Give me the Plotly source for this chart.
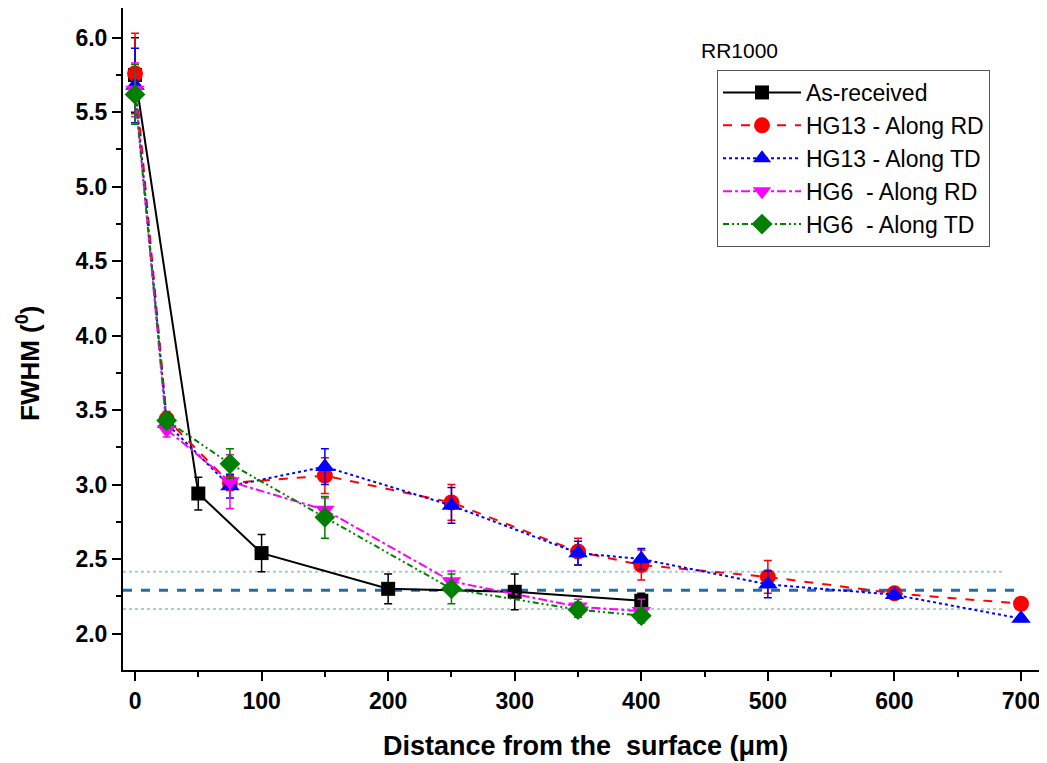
import plotly.graph_objects as go

# ---- data ----
x_asr = [0, 50, 100, 200, 300, 400]
y_asr = [5.75, 2.94, 2.54, 2.30, 2.28, 2.22]
e_asr = [0.25, 0.11, 0.125, 0.10, 0.12, 0.05]

x_hg13 = [0, 25, 75, 150, 250, 350, 400, 500, 600, 700]
y_hg13_rd = [5.76, 3.44, 3.01, 3.06, 2.88, 2.55, 2.46, 2.38, 2.27, 2.20]
e_hg13_rd = [0.27, 0.05, 0.05, 0.12, 0.12, 0.09, 0.10, 0.11, 0.03, 0.02]
y_hg13_td = [5.68, 3.41, 2.99, 3.12, 2.86, 2.54, 2.50, 2.33, 2.26, 2.10]
e_hg13_td = [0.25, 0.05, 0.08, 0.12, 0.12, 0.08, 0.07, 0.09, 0.03, 0.02]

x_hg6 = [0, 25, 75, 150, 250, 350, 400]
y_hg6_rd = [5.65, 3.37, 3.02, 2.83, 2.35, 2.18, 2.15]
e_hg6_rd = [0.18, 0.05, 0.18, 0.08, 0.07, 0.05, 0.08]
y_hg6_td = [5.62, 3.43, 3.14, 2.78, 2.30, 2.16, 2.12]
e_hg6_td = [0.20, 0.05, 0.10, 0.14, 0.10, 0.05, 0.04]

ref_mean = 2.29
ref_upper = 2.415
ref_lower = 2.165

x_ticks = [0, 100, 200, 300, 400, 500, 600, 700]
y_ticks = [2.0, 2.5, 3.0, 3.5, 4.0, 4.5, 5.0, 5.5, 6.0]

FONT = "Liberation Sans, Arial, sans-serif"
OFF = 8  # page body margin
W, H = 1047 - OFF, 763 - OFF
ML, MR, MT, MB = 123 - OFF, 7, 7 - OFF + 1, 93
PW, PH = W - ML - MR, H - MT - MB

def px_x(p):
    return (p - OFF - ML) / PW

def px_y(p):
    return (H - MB - (p - OFF)) / PH

fig = go.Figure()

series = [
    ("As-received", x_asr, y_asr, e_asr, "black", "solid", "square", 14),
    ("HG13 - Along RD", x_hg13, y_hg13_rd, e_hg13_rd, "#ff0000", "dash", "circle", 16),
    ("HG13 - Along TD", x_hg13, y_hg13_td, e_hg13_td, "#0000ff", "dot", "triangle-up", 17),
    ("HG6  - Along RD", x_hg6, y_hg6_rd, e_hg6_rd, "#ff00ff", "dashdot", "triangle-down", 17),
    ("HG6  - Along TD", x_hg6, y_hg6_td, e_hg6_td, "#008000", "6px,3px,2px,3px,2px,3px", "diamond", 16),
]

for name, xs, ys, es, col, dash, sym, ms in series:
    fig.add_trace(go.Scatter(
        x=xs, y=ys, name=name, mode="lines+markers", cliponaxis=False,
        line=dict(color=col, width=2, dash=dash),
        marker=dict(symbol=sym, size=ms, color=col, line=dict(width=0)),
        error_y=dict(type="data", array=es, visible=True, color=col, thickness=1.5, width=4),
    ))

# reference band lines
fig.add_shape(type="line", xref="x", yref="y", x0=-9.5, x1=695, y0=ref_mean, y1=ref_mean,
              line=dict(color="#1a6fae", width=3, dash="dash"), layer="below")
fig.add_shape(type="line", xref="x", yref="y", x0=-9.5, x1=687, y0=ref_upper, y1=ref_upper,
              line=dict(color="#a9cbe0", width=2, dash="dot"), layer="below")
fig.add_shape(type="line", xref="x", yref="y", x0=-9.5, x1=687, y0=ref_lower, y1=ref_lower,
              line=dict(color="#a9cbe0", width=2, dash="dot"), layer="below")

fig.add_annotation(text="RR1000", xref="paper", yref="paper", x=px_x(699), y=px_y(50),
                   xanchor="left", yanchor="middle", showarrow=False,
                   font=dict(family=FONT, size=21, color="black"))

# axis titles
fig.add_annotation(text="<b>Distance from the  surface (μm)</b>", xref="paper", yref="paper",
                   x=px_x(585), y=px_y(746), xanchor="center", yanchor="middle", showarrow=False,
                   font=dict(family=FONT, size=27, color="black"))
fig.add_annotation(text="<b>FWHM (<sup>0</sup>)</b>", xref="paper", yref="paper",
                   x=px_x(29), y=px_y(363), xanchor="center", yanchor="middle", showarrow=False,
                   textangle=-90, font=dict(family=FONT, size=26, color="black"))

fig.update_layout(
    width=W, height=H,
    margin=dict(l=ML, r=MR, t=MT, b=MB),
    paper_bgcolor="white", plot_bgcolor="white",
    font=dict(family=FONT, color="black"),
    showlegend=True,
    legend=dict(x=px_x(717), y=px_y(70), xanchor="left", yanchor="top",
                bordercolor="#555555", borderwidth=1, bgcolor="white",
                font=dict(family=FONT, size=23, color="black"),
                itemwidth=78, tracegroupgap=0),
    xaxis=dict(range=[-9.5, 715], tickmode="array", tickvals=x_ticks, automargin=False,
               ticks="outside", ticklen=9, tickwidth=2, tickcolor="black",
               showline=True, linewidth=2, linecolor="black", showgrid=False, zeroline=False,
               tickfont=dict(family=FONT, size=23, color="black", weight="bold"),
               minor=dict(dtick=50, tick0=0, ticks="outside", ticklen=5, tickwidth=2, tickcolor="black")),
    yaxis=dict(range=[1.755, 6.2], tickmode="array", tickvals=y_ticks, automargin=False,
               ticktext=[f"{v:.1f}" for v in y_ticks],
               ticks="outside", ticklen=9, tickwidth=2, tickcolor="black",
               showline=True, linewidth=2, linecolor="black", showgrid=False, zeroline=False,
               tickfont=dict(family=FONT, size=23, color="black", weight="bold"),
               minor=dict(dtick=0.25, tick0=0, ticks="outside", ticklen=5, tickwidth=2, tickcolor="black")),
)

fig.write_html("out.html")
